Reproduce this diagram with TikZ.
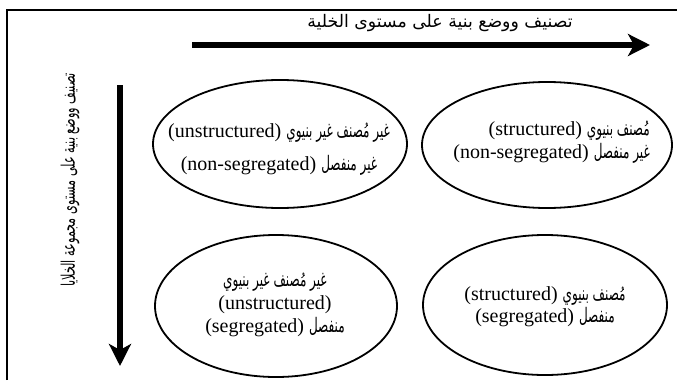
\documentclass[tikz,border=0pt]{standalone}
\usepackage{fontspec}
\setmainfont{Liberation Serif}
\newfontfamily\arabicfont[Script=Arabic]{DejaVu Sans}
\newfontfamily\arabicnarrow[Script=Arabic,FakeStretch=0.6]{DejaVu Sans}
\TeXXeTstate=1
\usetikzlibrary{arrows.meta,shapes.geometric}
\newcommand{\arb}[1]{{\arabicnarrow\fontsize{20}{20}\selectfont #1}}
\tikzset{
  every node/.style={font=\fontsize{20}{23}\selectfont, text=black},
  cell/.style={draw=black, ellipse, line width=1.8pt, inner sep=0pt},
  celltext/.style={align=center, inner sep=0pt},
  axis/.style={-{Stealth[length=22pt,width=22pt,inset=6pt]}, draw=black, line width=6pt},
  frame/.style={draw=black, line width=2pt},
}

\begin{document}
\begin{tikzpicture}[x=1pt,y=-1pt]
  \useasboundingbox (0,0) rectangle (677,380);

  % outer frame (top and left edges only)
  \draw[frame] (7,380) -- (7,10) -- (677,10);

  % axes
  \coordinate (hstart) at (192,45);
  \coordinate (hend) at (650,45);
  \coordinate (vstart) at (120,85);
  \coordinate (vend) at (120,366);
  \draw[axis] (hstart) -- (hend);
  \draw[axis] (vstart) -- (vend);
  \node (celllabel) at (440,23) {\beginR{\arabicfont\fontsize{17.3}{20}\selectfont تصنيف ووضع بنية على مستوى الخلية}\endR};
  \node[rotate=90] (grouplabel) at (70,180)
    {\beginR{\arabicnarrow\fontsize{18.7}{20}\selectfont تصنيف ووضع بنية على مستوى مجموعة الخلايا}\endR};

  % the four classes
  \node[cell, minimum width=254pt, minimum height=128pt] (unstrnon) at (280,144) {};
  \node[celltext] (unstrnontext) at (279,149)
    {\beginR\arb{غير مُصنف غير بنيوي} \beginL(unstructured)\endL\endR\\[10pt]
     \beginR\arb{غير منفصل} \beginL(non-segregated)\endL\endR};
  \node[cell, minimum width=250pt, minimum height=126pt] (strnon) at (547,145) {};
  \node[celltext, align=right, anchor=east] (strnontext) at (650,142)
    {\beginR\arb{مُصنف بنيوي} \beginL(structured)\endL\endR\\
     \beginR\arb{غير منفصل} \beginL(non-segregated)\endL\endR};
  \node[cell, minimum width=242pt, minimum height=142pt] (unstrseg) at (276,306) {};
  \node[celltext] (unstrsegtext) at (275,305)
    {\beginR\arb{غير مُصنف غير بنيوي}\endR\\
     (unstructured)\\
     \beginR\arb{منفصل} \beginL(segregated)\endL\endR};
  \node[cell, minimum width=244pt, minimum height=140pt] (strseg) at (545,305) {};
  \node[celltext] (strsegtext) at (545,307)
    {\beginR\arb{مُصنف بنيوي} \beginL(structured)\endL\endR\\[-1pt]
     \beginR\arb{منفصل} \beginL(segregated)\endL\endR};
\end{tikzpicture}
\end{document}
